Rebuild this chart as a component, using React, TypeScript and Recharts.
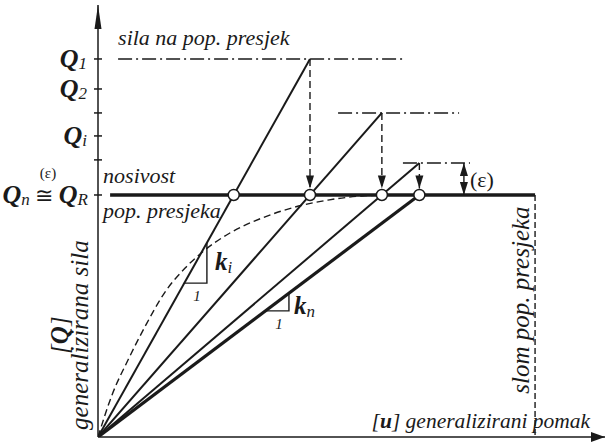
import { ComposedChart, Line, XAxis, YAxis, ReferenceDot } from 'recharts';

// generalised force Q (Q_R = 1) vs generalised displacement u
const qR = 1.0;
const peakU = [0.876, 1.173, 1.328];
const peakQ = [1.562, 1.339, 1.132];
const levelFromU = [0.083, 0.992, 1.26];
const levelToU = [1.269, 1.492, 1.537];
const yTicks = [1.562, 1.438, 1.339, 1.244, 1.145, 1.0];
const yTickSubs = ['1', '2', '', 'i', '', 'R'];
const curveU = [0, 0.058, 0.124, 0.198, 0.277, 0.36, 0.442, 0.545, 0.678, 0.814, 0.95, 1.091, 1.186];
const curveQ = [0, 0.174, 0.318, 0.463, 0.599, 0.698, 0.773, 0.843, 0.905, 0.95, 0.979, 0.996, 1.0];
const plateauU = [0.05, 1.806];
const collapseU = 1.806;
const epsU = 1.512;
const arrowTipQ = 1.027;
const kiTriU = [0.355, 0.45, 0.45];
const kiTriQ = [0.636, 0.636, 0.802];
const knTriU = [0.69, 0.789, 0.789];
const knTriQ = [0.521, 0.521, 0.599];

const X_MAX = 2.095;
const Y_MAX = 1.785;
const INK = '#1a1a1a';
const FONT = "'Liberation Serif', 'Times New Roman', Times, serif";

const seg = (u: number[], q: number[]) => u.map((v, i) => ({ u: v, q: q[i] }));

const secants = peakU.map((u, i) => seg([0, u], [0, peakQ[i]]));
const lastSecant = seg([0, peakU[2]], [0, qR]);
const crossings = [...peakU.map((u, i) => (u * qR) / peakQ[i]), peakU[2]];

function QTick(props: any) {
  const { x, y, payload } = props;
  const idx = yTicks.indexOf(payload.value);
  const sub = yTickSubs[idx];
  const ax = x + 10;
  const isR = sub === 'R';
  return (
    <g style={{ fontFamily: FONT }}>
      <line x1={ax - 4} x2={ax + 4} y1={y} y2={y} stroke={INK} strokeWidth={1.5} />
      {sub && !isR && (
        <text x={x - 1} y={y + 8} textAnchor="end" fill={INK} style={{ fontFamily: FONT }}>
          <tspan fontSize={26} fontWeight="bold" fontStyle="italic">Q</tspan>
          <tspan fontSize={17} fontStyle="italic" dy={2}>{sub}</tspan>
        </text>
      )}
      {isR && (
        <g fill={INK}>
          <text x={x} y={y + 8} textAnchor="end" style={{ fontFamily: FONT }}>
            <tspan fontSize={26} fontWeight="bold" fontStyle="italic">Q</tspan>
            <tspan fontSize={17} fontStyle="italic" dy={2}>n</tspan>
            <tspan fontSize={22} dy={-2}> ≅ </tspan>
            <tspan fontSize={26} fontWeight="bold" fontStyle="italic">Q</tspan>
            <tspan fontSize={17} fontStyle="italic" dy={2}>R</tspan>
          </text>
          <text x={x - 40} y={y - 17} textAnchor="middle" fontSize={15} style={{ fontFamily: FONT }}>(ε)</text>
        </g>
      )}
    </g>
  );
}

const downHead = (p: any) => (
  <path d={`M${p.cx},${p.cy} L${p.cx - 4},${p.cy - 13} L${p.cx + 4},${p.cy - 13} Z`} fill={INK} />
);
const upHead = (p: any) => (
  <path d={`M${p.cx},${p.cy} L${p.cx - 4},${p.cy + 13} L${p.cx + 4},${p.cy + 13} Z`} fill={INK} />
);

function note(
  u: number,
  q: number,
  dx: number,
  dy: number,
  content: any,
  opts: { size?: number; anchor?: string; rotate?: boolean; italic?: boolean } = {}
) {
  const { size = 22, anchor = 'start', rotate = false, italic = true } = opts;
  return (
    <ReferenceDot
      key={`${u}-${q}-${dx}-${dy}`}
      x={u}
      y={q}
      ifOverflow="visible"
      shape={(p: any) => {
        const tx = p.cx + dx;
        const ty = p.cy + dy;
        return (
          <text
            x={tx}
            y={ty}
            textAnchor={anchor}
            fontSize={size}
            fontStyle={italic ? 'italic' : 'normal'}
            fill={INK}
            style={{ fontFamily: FONT }}
            transform={rotate ? `rotate(-90, ${tx}, ${ty})` : undefined}
          >
            {content}
          </text>
        );
      }}
    />
  );
}

export default function App() {
  return (
    <div style={{ position: 'absolute', left: 0, top: 0, background: '#fff', fontFamily: FONT }}>
      <ComposedChart width={607} height={445} margin={{ top: 5, right: 2, bottom: 0, left: 0 }}>
        <XAxis
          type="number"
          dataKey="u"
          domain={[0, X_MAX]}
          allowDataOverflow
          tick={false}
          tickLine={false}
          height={8}
          axisLine={{ stroke: INK, strokeWidth: 1.5 }}
        />
        <YAxis
          type="number"
          dataKey="q"
          domain={[0, Y_MAX]}
          allowDataOverflow
          ticks={yTicks}
          interval={0}
          width={98}
          tickSize={4}
          tickMargin={6}
          tickLine={false}
          tick={<QTick />}
          axisLine={{ stroke: INK, strokeWidth: 1.5 }}
        />

        {/* resistance curve */}
        <Line data={seg(curveU, curveQ)} dataKey="q" type="monotone" stroke={INK} strokeWidth={1.4}
          strokeDasharray="7 4" dot={false} activeDot={false} isAnimationActive={false} />

        {/* load levels */}
        {levelFromU.map((u, i) => (
          <Line key={`lv${i}`} data={seg([u, levelToU[i]], [peakQ[i], peakQ[i]])} dataKey="q" type="linear"
            stroke={INK} strokeWidth={1.4} strokeDasharray="14 4 2 4" dot={false} activeDot={false}
            isAnimationActive={false} />
        ))}

        {/* secant stiffness lines */}
        {secants.map((d, i) => (
          <Line key={`sc${i}`} data={d} dataKey="q" type="linear" stroke={INK} strokeWidth={2}
            dot={false} activeDot={false} isAnimationActive={false} />
        ))}
        <Line data={lastSecant} dataKey="q" type="linear" stroke={INK} strokeWidth={3.2}
          dot={false} activeDot={false} isAnimationActive={false} />

        {/* stiffness triangles */}
        <Line data={seg(kiTriU, kiTriQ)} dataKey="q" type="linear" stroke={INK} strokeWidth={1.4}
          dot={false} activeDot={false} isAnimationActive={false} />
        <Line data={seg(knTriU, knTriQ)} dataKey="q" type="linear" stroke={INK} strokeWidth={1.4}
          dot={false} activeDot={false} isAnimationActive={false} />

        {/* capacity plateau and collapse */}
        <Line data={seg(plateauU, [qR, qR])} dataKey="q" type="linear" stroke={INK} strokeWidth={3.6}
          dot={false} activeDot={false} isAnimationActive={false} />
        <Line data={seg([collapseU, collapseU], [qR, 0])} dataKey="q" type="linear" stroke={INK}
          strokeWidth={1.4} strokeDasharray="6 3" dot={false} activeDot={false} isAnimationActive={false} />

        {/* iteration arrows */}
        {peakU.map((u, i) => (
          <Line key={`ar${i}`} data={seg([u, u], [peakQ[i], arrowTipQ])} dataKey="q" type="linear"
            stroke={INK} strokeWidth={1.4} strokeDasharray="7 4" dot={false} activeDot={false}
            isAnimationActive={false} />
        ))}
        {peakU.map((u, i) => (
          <ReferenceDot key={`ah${i}`} x={u} y={arrowTipQ} ifOverflow="visible" shape={downHead} />
        ))}

        {/* epsilon tolerance */}
        <Line data={seg([epsU, epsU], [peakQ[2], qR])} dataKey="q" type="linear" stroke={INK}
          strokeWidth={1.4} dot={false} activeDot={false} isAnimationActive={false} />
        <ReferenceDot x={epsU} y={peakQ[2]} ifOverflow="visible" shape={upHead} />
        <ReferenceDot x={epsU} y={qR} ifOverflow="visible" shape={downHead} />

        {crossings.map((u, i) => (
          <ReferenceDot key={`cr${i}`} x={u} y={qR} r={5.5} fill="#fff" stroke={INK} strokeWidth={1.5}
            ifOverflow="visible" />
        ))}

        {/* axis arrows */}
        <ReferenceDot x={0} y={Y_MAX} ifOverflow="visible"
          shape={(p: any) => <path d={`M${p.cx},${p.cy} L${p.cx - 3.5},${p.cy + 24} L${p.cx + 3.5},${p.cy + 24} Z`} fill={INK} />} />
        <ReferenceDot x={X_MAX} y={0} ifOverflow="visible"
          shape={(p: any) => <path d={`M${p.cx},${p.cy} L${p.cx - 14},${p.cy - 5} L${p.cx - 14},${p.cy + 5} Z`} fill={INK} />} />

        {note(levelFromU[0], peakQ[0], 0, -14, 'sila na pop. presjek')}
        {note(plateauU[0], qR, -7, -12, 'nosivost')}
        {note(plateauU[0], qR, -7, 23, 'pop. presjeka')}
        {note(epsU, (qR + peakQ[2]) / 2, 6, 8, '(ε)', { italic: false })}
        {note(kiTriU[1], kiTriQ[1], 8, -13, (
          <>
            <tspan fontWeight="bold">k</tspan>
            <tspan fontSize={17} dy={3}>i</tspan>
          </>
        ), { size: 25 })}
        {note(kiTriU[1], kiTriQ[1], -10, 18, '1', { size: 15, anchor: 'middle' })}
        {note(knTriU[1], knTriQ[1], 5, 3, (
          <>
            <tspan fontWeight="bold">k</tspan>
            <tspan fontSize={17} dy={3}>n</tspan>
          </>
        ), { size: 25 })}
        {note(knTriU[1], knTriQ[1], -10, 18, '1', { size: 15, anchor: 'middle' })}
        {note(0, 0.421, -10, 0, 'generalizirana sila', { rotate: true, anchor: 'middle', size: 25 })}
        {note(0, 0.421, -30, 0, (
          <>
            [<tspan fontWeight="bold">Q</tspan>]
          </>
        ), { rotate: true, anchor: 'middle', size: 25 })}
        {note(collapseU, 0.566, -6, 0, 'slom pop. presjeka', { rotate: true, anchor: 'middle', size: 25 })}
        {note(1.582, 0, 0, -9, (
          <>
            [<tspan fontWeight="bold">u</tspan>] generalizirani pomak
          </>
        ), { anchor: 'middle', size: 21.5 })}
      </ComposedChart>
    </div>
  );
}
